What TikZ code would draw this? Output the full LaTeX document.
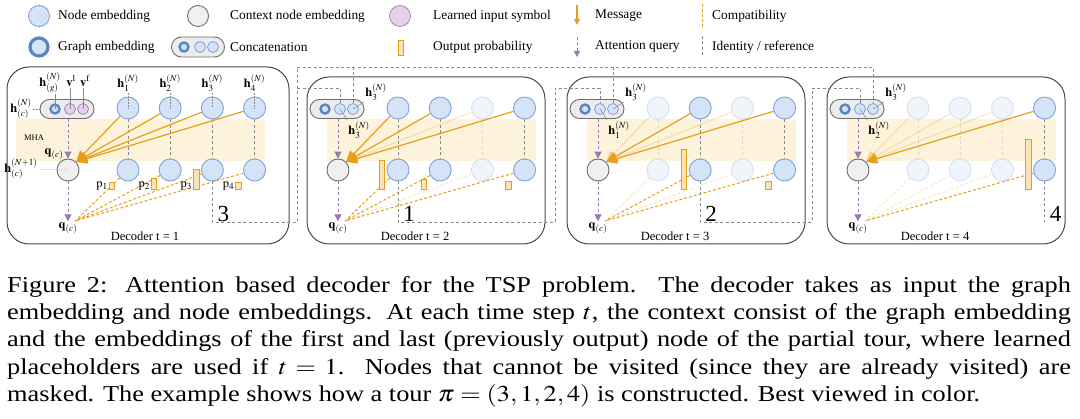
\documentclass[tikz,border=0pt]{standalone}
\usepackage{amsmath}
\usepackage{mathptmx}
\usepackage{fontspec}
\setmainfont{Liberation Serif}
\usepackage{tikz}
\usetikzlibrary{arrows.meta,calc,positioning}

\definecolor{nodefill}{HTML}{D5E3F7}
\definecolor{nodeline}{HTML}{7FA2D6}
\definecolor{maskfill}{HTML}{F0F5FC}
\definecolor{maskline}{HTML}{D3E0F3}
\definecolor{graphline}{HTML}{5B84C2}
\definecolor{ctxfill}{HTML}{F0F0F0}
\definecolor{ctxline}{HTML}{6E6E6E}
\definecolor{purpfill}{HTML}{E3D2EA}
\definecolor{purpline}{HTML}{A585B8}
\definecolor{purparrow}{HTML}{9A78B6}
\definecolor{msgcol}{HTML}{E5A019}
\definecolor{probfill}{HTML}{FCE3B4}
\definecolor{mhafill}{HTML}{FDF3DA}
\definecolor{refcol}{HTML}{8A8A8A}
\definecolor{pillfill}{HTML}{ECECEC}
\definecolor{framecol}{HTML}{4A4A4A}

\newcommand{\legfont}{\fontsize{13.4}{16}\selectfont}
\newcommand{\lblfont}{\fontsize{12.5}{15}\selectfont}
\newcommand{\numfont}{\fontsize{23}{25}\selectfont}
\newcommand{\capfont}{\fontsize{22.7}{27.3}\selectfont}

\tikzset{
  emb/.style={circle, draw=nodeline, fill=nodefill, line width=0.9pt, minimum size=22pt, inner sep=0pt},
  embmask/.style={emb, draw=maskline, fill=maskfill},
  ctx/.style={circle, draw=ctxline, fill=ctxfill, line width=0.9pt, minimum size=22pt, inner sep=0pt},
  slot/.style={circle, draw=nodeline, fill=nodefill, line width=0.8pt, minimum size=11pt, inner sep=0pt},
  learned/.style={slot, draw=purpline, fill=purpfill},
  graphemb/.style={slot, draw=graphline, line width=2.4pt, minimum size=9pt},
  pill/.style={rectangle, rounded corners=9.5pt, draw=ctxline, fill=pillfill, line width=0.9pt, minimum width=54pt, minimum height=19pt},
  panel/.style={draw=framecol, line width=1pt, rounded corners=22pt},
  mha/.style={fill=mhafill},
  msg/.style={draw=msgcol, line width=1.2pt, -{Triangle[length=11pt,width=10pt]}},
  query/.style={draw=purparrow, line width=1pt, dash pattern=on 3pt off 2.5pt, -{Triangle[length=7pt,width=7pt]}},
  compat/.style={draw=msgcol, line width=1pt, dash pattern=on 3pt off 2pt},
  ref/.style={draw=refcol, line width=0.8pt, dash pattern=on 3pt off 2.5pt},
  lead/.style={draw=refcol, line width=0.5pt},
  prob/.style={draw=msgcol, fill=probfill, line width=0.8pt},
  lbl/.style={inner sep=1pt, font=\lblfont},
  legtext/.style={anchor=west, inner sep=0pt, font=\legfont},
  num/.style={inner sep=0pt, font=\numfont},
}

% one decoder step: #1 step, #2 x of context node, #3 node/style/opacity, #4 node/bar height, #5 slot style
\newcommand{\decoder}[5]{%
  \begin{scope}[shift={(#2,0)}]
    % context
    \node[pill] (d#1pill) at (-1,109) {};
    \node[graphemb] (d#1g) at (-13,109) {};
    \node[#5] (d#1s2) at (2,109) {};
    \node[#5] (d#1s3) at (15,109) {};
    \node[ctx] (d#1c) at (0,170) {};
    \node[lbl] (d#1q) at (0,228) {$\mathbf{q}_{(c)}$};
    \coordinate (d#1qq) at (7,221);
    \node[lbl] (d#1name) at (77,236) {Decoder t = #1};
    % node embeddings
    \foreach \i/\st/\op in {#3} {
      \node[\st] (d#1t\i) at ({60+42.2*(\i-1)},108) {};
      \node[\st] (d#1b\i) at ({60+42.2*(\i-1)},170) {};
    }
    \foreach \i/\st/\op in {#3} {
      \draw[ref, opacity=\op] (d#1t\i) -- (d#1b\i);
      \draw[msg, opacity=\op] (d#1t\i) -- (d#1c.45);
      \draw[compat, opacity=\op] (d#1b\i) -- (d#1qq);
    }
    % queries
    \draw[query] (d#1pill.south -| d#1c) -- (d#1c);
    \draw[query] (d#1c) -- (d#1q);
    % output probabilities
    \foreach \i/\h in {#4}
      \draw[prob] ($(d#1b\i)+(-19,19)$) rectangle ++(5.5,-\h);
  \end{scope}
}

\begin{document}
\begin{tikzpicture}[x=1pt,y=-1pt]
\useasboundingbox (0,0) rectangle (1080,419);

% legend, first row
\node[emb, minimum size=21pt] (legnode) at (39,16) {};
\node[legtext] (legnodet) at (58,16) {Node embedding};
\node[ctx, minimum size=21pt] (legctx) at (198,16) {};
\node[legtext] (legctxt) at (230,16) {Context node embedding};
\node[learned, minimum size=21pt] (leglearn) at (400,16) {};
\node[legtext] (leglearnt) at (433,16) {Learned input symbol};
\coordinate (legmsga) at (577,5);
\coordinate (legmsgb) at (577,25);
\draw[msg, -{Triangle[length=6pt,width=6pt]}] (legmsga) -- (legmsgb);
\node[legtext] (legmsgt) at (595,16) {Message};
\coordinate (legcompa) at (702,4);
\coordinate (legcompb) at (702,28);
\draw[compat] (legcompa) -- (legcompb);
\node[legtext] (legcompt) at (712,16) {Compatibility};

% legend, second row
\node[graphemb, minimum size=18pt, line width=3.2pt] (leggraph) at (39,47) {};
\node[legtext] (leggrapht) at (58,47) {Graph embedding};
\node[pill, minimum width=53pt, minimum height=20pt, rounded corners=10pt] (legpill) at (198,47) {};
\node[graphemb] (legpg) at (184,47) {};
\node[slot] (legps2) at (200,47) {};
\node[slot] (legps3) at (213,47) {};
\node[legtext] (legpillt) at (230,47) {Concatenation};
\draw[prob] (398,40) rectangle (403,55);
\node[legtext] (legprobt) at (433,47) {Output probability};
\coordinate (legqa) at (577,37);
\coordinate (legqb) at (577,57);
\draw[query, -{Triangle[length=6pt,width=6pt]}] (legqa) -- (legqb);
\node[legtext] (legqt) at (595,47) {Attention query};
\coordinate (legrefa) at (702,36);
\coordinate (legrefb) at (702,58);
\draw[ref] (legrefa) -- (legrefb);
\node[legtext] (legreft) at (712,47) {Identity / reference};

% panels
\draw[panel] (7,67) rectangle (289,244);
\draw[panel] (307,77) rectangle (545,244);
\draw[panel] (567,77) rectangle (805,244);
\draw[panel] (827,77) rectangle (1065,244);

% MHA bands
\fill[mha] (16,119) rectangle (265,161);
\fill[mha] (327,119) rectangle (536,161);
\fill[mha] (587,119) rectangle (796,161);
\fill[mha] (847,119) rectangle (1056,161);
\node[lbl, font=\fontsize{8.5}{10}\selectfont] (mha) at (34,138) {MHA};

% decoder steps
\decoder{1}{68}{1/emb/1,2/emb/1,3/emb/1,4/emb/1}{1/7,2/11,3/20,4/7}{learned}
\decoder{2}{338}{1/emb/1,2/emb/1,3/embmask/0.25,4/emb/1}{1/29,2/10,4/8}{slot}
\decoder{3}{598}{1/embmask/0.25,2/emb/1,3/embmask/0.25,4/emb/1}{2/40,4/8}{slot}
\decoder{4}{858}{1/embmask/0.25,2/embmask/0.25,3/embmask/0.25,4/emb/1}{4/50}{slot}

% labels of the first step
\node[lbl] (d1hg) at (50,83) {$\mathbf{h}^{(N)}_{(g)}$};
\node[lbl] (d1vl) at (71,81) {$\mathbf{v}^{\mathrm{l}}$};
\node[lbl] (d1vf) at (85,81) {$\mathbf{v}^{\mathrm{f}}$};
\draw[lead] (d1g |- d1hg.south) -- (d1g.center);
\draw[lead] (d1s2 |- d1vl.south) -- (d1s2.center);
\draw[lead] (d1s3 |- d1vf.south) -- (d1s3.center);
\node[lbl] (d1hc) at (21,109) {$\mathbf{h}^{(N)}_{(c)}$};
\draw[lead, densely dotted] (d1hc) -- (d1pill);
\node[lbl] (d1hcc) at (21,169) {$\mathbf{h}^{(N+1)}_{(c)}$};
\draw[lead, densely dotted] (d1hcc) -- (d1c.center);
\node[lbl] (d1qin) at (54,154) {$\mathbf{q}_{(c)}$};
\foreach \i in {1,...,4} {
  \node[lbl] (d1h\i) at (d1t\i |- d1hg) {$\mathbf{h}^{(N)}_{\i}$};
  \draw[lead, densely dotted] (d1h\i) -- (d1t\i.center);
  \node[lbl] (d1p\i) at ($(d1b\i)+(-26,16)$) {$\mathrm{p}_{\i}$};
}

% labels of the context slots
\foreach \pn/\last in {2/3,3/1,4/2} {
  \node[lbl] (d\pn hf) at ($(d\pn s3)+(23,-17)$) {$\mathbf{h}^{(N)}_{3}$};
  \draw[lead] (d\pn s3.center) -- (d\pn hf.south west);
  \node[lbl] (d\pn hl) at ($(d\pn s2)+(19,21)$) {$\mathbf{h}^{(N)}_{\last}$};
  \draw[lead] (d\pn s2.center) -- (d\pn hl.north west);
}

% identity / reference routes
\coordinate (r1) at (297,222);
\coordinate (r1top) at (297,67);
\coordinate (r1mid) at (297,88);
\draw[ref] (d1b3) |- (r1) -- (r1top) -| (d4s3);
\draw[ref] (r1mid) -| (d2s2);
\draw[ref] (d2s3 |- r1top) -- (d2s3);
\draw[ref] (d3s3 |- r1top) -- (d3s3);
\coordinate (r2) at (555,222);
\coordinate (r2mid) at (555,88);
\draw[ref] (d2b1) |- (r2) -- (r2mid) -| (d3s2);
\coordinate (r3) at (812,222);
\coordinate (r3mid) at (812,88);
\draw[ref] (d3b2) |- (r3) -- (r3mid) -| (d4s2);
\coordinate (r4) at (d4b4 |- r1);
\draw[ref] (d4b4) -- (r4);
\node[num] (n1) at ($(d1b3 |- r1)+(11,-8)$) {3};
\node[num] (n2) at ($(d2b1 |- r1)+(11,-8)$) {1};
\node[num] (n3) at ($(d3b2 |- r1)+(11,-8)$) {2};
\node[num] (n4) at ($(d4b4 |- r1)+(11,-8)$) {4};

% caption
\node[anchor=north west, text width=917pt, align=justify, inner sep=0pt,
      xscale=1.16, transform shape, font=\capfont] (caption) at (7,276)
  {Figure 2: Attention based decoder for the TSP problem. The decoder takes as input the graph\linebreak
   embedding and node embeddings. At each time step $t$, the context consist of the graph embedding\linebreak
   and the embeddings of the first and last (previously output) node of the partial tour, where learned\linebreak
   placeholders are used if $t=1$. Nodes that cannot be visited (since they are already visited) are\linebreak
   masked. The example shows how a tour $\boldsymbol{\pi}=(3,1,2,4)$ is constructed. Best viewed in color.};

\end{tikzpicture}
\end{document}
